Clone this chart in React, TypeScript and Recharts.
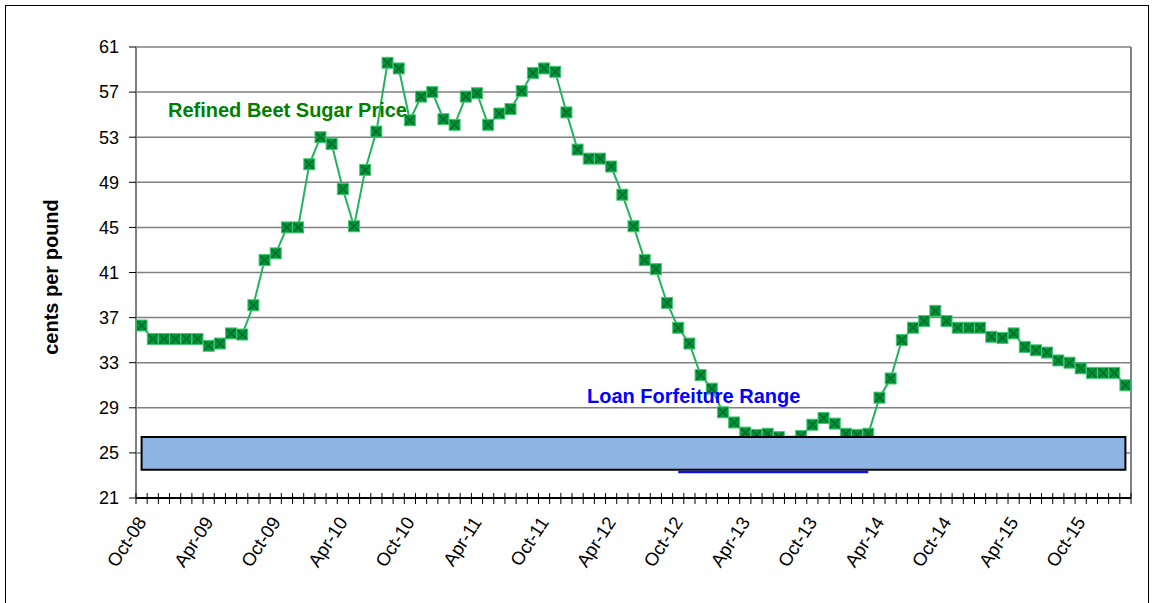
import React from 'react';
import { LineChart, Line, XAxis, YAxis, CartesianGrid, ReferenceArea, ReferenceLine } from 'recharts';

const months = [
  'Oct-08', 'Nov-08', 'Dec-08',
  'Jan-09', 'Feb-09', 'Mar-09', 'Apr-09', 'May-09', 'Jun-09', 'Jul-09', 'Aug-09', 'Sep-09', 'Oct-09', 'Nov-09', 'Dec-09',
  'Jan-10', 'Feb-10', 'Mar-10', 'Apr-10', 'May-10', 'Jun-10', 'Jul-10', 'Aug-10', 'Sep-10', 'Oct-10', 'Nov-10', 'Dec-10',
  'Jan-11', 'Feb-11', 'Mar-11', 'Apr-11', 'May-11', 'Jun-11', 'Jul-11', 'Aug-11', 'Sep-11', 'Oct-11', 'Nov-11', 'Dec-11',
  'Jan-12', 'Feb-12', 'Mar-12', 'Apr-12', 'May-12', 'Jun-12', 'Jul-12', 'Aug-12', 'Sep-12', 'Oct-12', 'Nov-12', 'Dec-12',
  'Jan-13', 'Feb-13', 'Mar-13', 'Apr-13', 'May-13', 'Jun-13', 'Jul-13', 'Aug-13', 'Sep-13', 'Oct-13', 'Nov-13', 'Dec-13',
  'Jan-14', 'Feb-14', 'Mar-14', 'Apr-14', 'May-14', 'Jun-14', 'Jul-14', 'Aug-14', 'Sep-14', 'Oct-14', 'Nov-14', 'Dec-14',
  'Jan-15', 'Feb-15', 'Mar-15', 'Apr-15', 'May-15', 'Jun-15', 'Jul-15', 'Aug-15', 'Sep-15', 'Oct-15', 'Nov-15', 'Dec-15',
  'Jan-16', 'Feb-16',
];

const beetPrice = [
  36.3, 35.1, 35.1,
  35.1, 35.1, 35.1, 34.5, 34.7, 35.6, 35.5, 38.1, 42.1, 42.7, 45.0, 45.0,
  50.6, 53.0, 52.4, 48.4, 45.1, 50.1, 53.5, 59.6, 59.1, 54.5, 56.6, 57.0,
  54.6, 54.1, 56.6, 56.9, 54.1, 55.1, 55.5, 57.1, 58.7, 59.1, 58.8, 55.2,
  51.9, 51.1, 51.1, 50.4, 47.9, 45.1, 42.1, 41.3, 38.3, 36.1, 34.7, 31.9,
  30.7, 28.6, 27.7, 26.8, 26.6, 26.7, 26.4, 26.0, 26.5, 27.5, 28.1, 27.6,
  26.7, 26.6, 26.7, 29.9, 31.6, 35.0, 36.1, 36.7, 37.6, 36.7, 36.1, 36.1,
  36.1, 35.3, 35.2, 35.6, 34.4, 34.1, 33.9, 33.2, 33.0, 32.5, 32.1, 32.1,
  32.1, 31.0,
];

const yTicks = [21, 25, 29, 33, 37, 41, 45, 49, 53, 57, 61];
const labelEvery = 6;

const loanRange = { low: 23.5, high: 26.4 };
const loanLevel = { from: 'Oct-12', to: 'Mar-14', value: 23.3 };

const data = months.map((m, i) => ({ x: i + 0.5, month: m, price: beetPrice[i] }));
const xTicks = Array.from({ length: months.length + 1 }, (_, i) => i);

const FONT = '"Liberation Sans", Arial, sans-serif';
const CHART_W = 1153;
const CHART_H = 603;
const MARGIN = { top: 47, right: 22, left: 0, bottom: 0 };
const Y_W = 136;
const X_H = 105;
const HALF_BAND = (CHART_W - Y_W - MARGIN.right) / months.length / 2;

const XTick = (props: any) => {
  const { x, y, payload } = props;
  const i = payload.value;
  const label = i % labelEvery === 0 && i < months.length ? months[i] : null;
  const ax = x + HALF_BAND + 5.5;
  const ay = y + 24;
  return (
    <g>
      <line x1={x} x2={x} y1={y - 5} y2={y + 6} stroke="#000" strokeWidth={1} />
      {label && (
        <text
          x={ax}
          y={ay}
          transform={`rotate(-57, ${ax}, ${ay})`}
          textAnchor="end"
          fontSize={18.5}
          fontFamily={FONT}
          fill="#000"
        >
          {label}
        </text>
      )}
    </g>
  );
};

const Marker = (props: any) => {
  const { cx, cy, index } = props;
  if (cx == null || cy == null) return <g key={`m-${index}`} />;
  const s = 5.5;
  return (
    <g key={`m-${index}`}>
      <rect x={cx - s} y={cy - s} width={2 * s} height={2 * s} fill="#00963A" stroke="#45C874" strokeWidth={1} />
      <line x1={cx - s + 1} y1={cy - s + 1} x2={cx + s - 1} y2={cy + s - 1} stroke="#0A6B2A" strokeWidth={1.5} />
      <line x1={cx - s + 1} y1={cy + s - 1} x2={cx + s - 1} y2={cy - s + 1} stroke="#0A6B2A" strokeWidth={1.5} />
    </g>
  );
};

export default function App() {
  const iFrom = months.indexOf(loanLevel.from);
  const iTo = months.indexOf(loanLevel.to);
  return (
    <div style={{ position: 'absolute', left: 0, top: 0, width: CHART_W, height: CHART_H, overflow: 'hidden', background: '#fff' }}>
      <div style={{ position: 'absolute', left: 5, top: 5, width: 1144, height: 700, border: '1px solid #000', boxSizing: 'border-box' }} />
      <div style={{ position: 'absolute', left: 0, top: 0 }}>
        <LineChart width={CHART_W} height={CHART_H} data={data} margin={MARGIN}>
          <CartesianGrid vertical={false} stroke="#808080" strokeWidth={1.5} />
          <XAxis
            type="number"
            dataKey="x"
            domain={[0, months.length]}
            ticks={xTicks}
            interval={0}
            tickLine={false}
            tickSize={0}
            tickMargin={0}
            tick={<XTick />}
            axisLine={{ stroke: '#000', strokeWidth: 2 }}
            height={X_H}
          />
          <YAxis
            type="number"
            domain={[21, 61]}
            ticks={yTicks}
            interval={0}
            width={Y_W}
            tickSize={7}
            tickMargin={10}
            tick={{ fontSize: 18, fill: '#000', fontFamily: FONT }}
            tickLine={{ stroke: '#000' }}
            axisLine={{ stroke: '#808080', strokeWidth: 2 }}
          />
          <ReferenceLine x={months.length} stroke="#808080" strokeWidth={2} />
          <Line
            dataKey="price"
            stroke="#22B45C"
            strokeWidth={2}
            dot={Marker}
            activeDot={false}
            isAnimationActive={false}
          />
        </LineChart>
      </div>
      <div style={{ position: 'absolute', left: 0, top: 0, pointerEvents: 'none' }}>
        <LineChart width={CHART_W} height={CHART_H} data={data} margin={MARGIN}>
          <XAxis
            type="number"
            dataKey="x"
            domain={[0, months.length]}
            ticks={xTicks}
            tick={false}
            tickLine={false}
            axisLine={false}
            height={X_H}
          />
          <YAxis
            type="number"
            domain={[21, 61]}
            ticks={yTicks}
            tick={false}
            tickLine={false}
            axisLine={false}
            width={Y_W}
          />
          <Line
            dataKey="price"
            stroke="none"
            strokeOpacity={0}
            dot={false}
            activeDot={false}
            isAnimationActive={false}
          />
          <ReferenceLine
            segment={[
              { x: data[iFrom].x, y: loanLevel.value },
              { x: data[iTo].x, y: loanLevel.value },
            ]}
            stroke="#1010E0"
            strokeWidth={2.5}
          />
          <ReferenceArea
            x1={data[0].x}
            x2={data[data.length - 1].x}
            y1={loanRange.low}
            y2={loanRange.high}
            fill="#8EB4E3"
            fillOpacity={1}
            stroke="#000"
            strokeWidth={2}
          />
        </LineChart>
      </div>
      <svg width={CHART_W} height={CHART_H} style={{ position: 'absolute', left: 0, top: 0, pointerEvents: 'none' }}>
        <text
          x={58}
          y={277}
          transform="rotate(-90, 58, 277)"
          textAnchor="middle"
          fontSize={20}
          fontWeight="bold"
          fontFamily={FONT}
          fill="#000"
        >
          cents per pound
        </text>
        <text x={168} y={117} fontSize={20} fontWeight="bold" fontFamily={FONT} fill="#008000">
          Refined Beet Sugar Price
        </text>
        <text x={587} y={403} fontSize={20} fontWeight="bold" fontFamily={FONT} fill="#0000FF">
          Loan Forfeiture Range
        </text>
      </svg>
    </div>
  );
}
